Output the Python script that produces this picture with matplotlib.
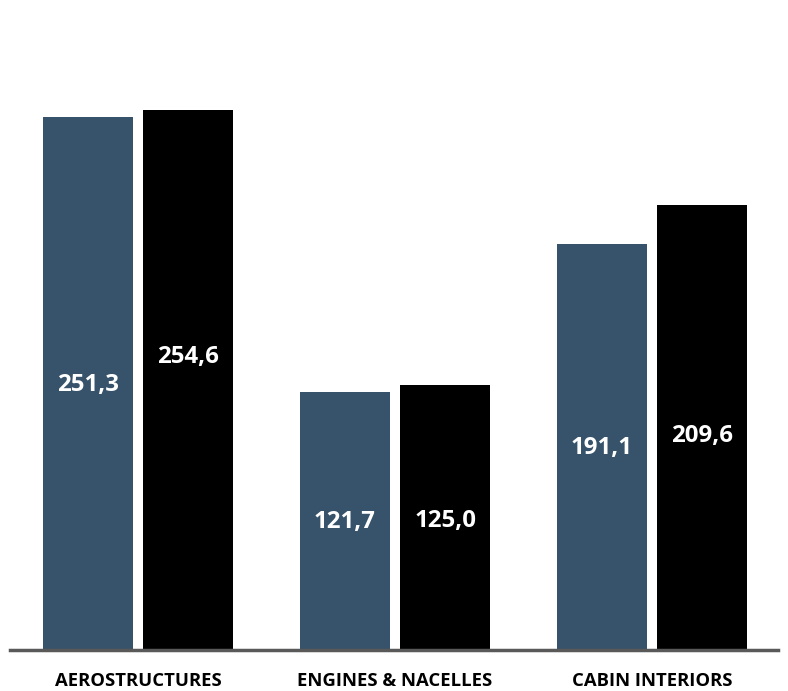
import matplotlib
matplotlib.use("Agg")
import matplotlib.pyplot as plt
import numpy as np

categories = ["AEROSTRUCTURES", "ENGINES & NACELLES", "CABIN INTERIORS"]
series_a = [251.3, 121.7, 191.1]
series_b = [254.6, 125.0, 209.6]
# vertical anchor of each value label (data units)
label_y_a = [124.9, 60.3, 95.2]
label_y_b = [138.0, 60.8, 100.8]

color_a = "#36536b"
color_b = "#000000"

plt.rcParams["font.family"] = ["Open Sans", "DejaVu Sans"]

fig = plt.figure(figsize=(7.88, 6.91), dpi=100)
ax = fig.add_axes([10 / 788, 41 / 691, 768 / 788, 650 / 691])

x = np.arange(len(categories))
width = 0.35
offset = 0.195

ax.bar(x - offset, series_a, width, color=color_a, zorder=1)
ax.bar(x + offset, series_b, width, color=color_b, zorder=1)

def fmt(v):
    return f"{v:.1f}".replace(".", ",")

for i in range(len(categories)):
    ax.text(x[i] - offset, label_y_a[i], fmt(series_a[i]), ha="center", va="center",
            color="white", fontsize=17.3, fontweight="bold")
    ax.text(x[i] + offset, label_y_b[i], fmt(series_b[i]), ha="center", va="center",
            color="white", fontsize=17.3, fontweight="bold")

ax.set_xlim(-0.498, 2.490)
ax.set_ylim(0, 306.3)

for s in ["top", "right", "left"]:
    ax.spines[s].set_visible(False)
ax.spines["bottom"].set_color("#595959")
ax.spines["bottom"].set_linewidth(2.5)
ax.spines["bottom"].set_zorder(3)

ax.set_yticks([])
ax.set_xticks(x)
ax.set_xticklabels(categories, fontsize=13.3, fontweight="bold", color="black")
ax.tick_params(axis="x", length=0, pad=15.5)

fig.savefig("out.png", dpi=100, facecolor="white")
